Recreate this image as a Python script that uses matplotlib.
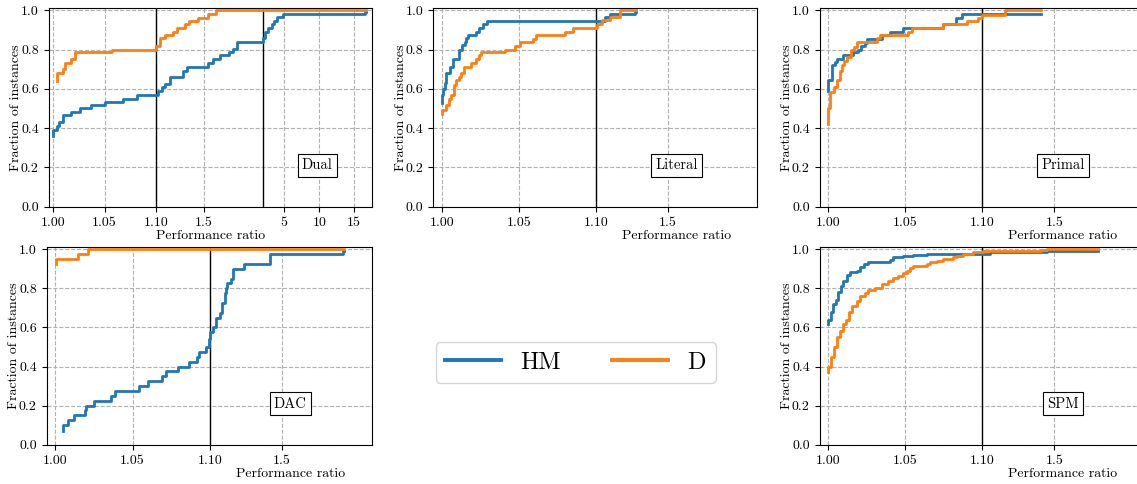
import numpy as np
import matplotlib
matplotlib.use("Agg")
import matplotlib.pyplot as plt
from matplotlib.lines import Line2D

plt.rcParams["font.family"] = "cmr10"
plt.rcParams["mathtext.fontset"] = "cm"
plt.rcParams["axes.formatter.use_mathtext"] = True
plt.rcParams["font.size"] = 10

# ---------------------------------------------------------------------------
# Performance profiles: step breakpoints (performance ratio) and fraction of
# instances solved within that ratio, for each problem class and method.
# ---------------------------------------------------------------------------
series_names = ["HM", "D"]
colors = ["#1f77b4", "#ff7f0e"]

dual_hm_x = [1.000, 1.000, 1.004, 1.006, 1.009, 1.017, 1.026, 1.037, 1.050, 1.068,
             1.082, 1.122, 1.150, 1.178, 1.220, 1.326, 1.365, 1.540, 1.582, 1.638,
             1.716, 1.749, 1.777, 2.00, 2.24, 2.71, 3.19, 3.52, 3.90, 4.76, 16.52, 16.67]
dual_hm_y = [0.36, 0.39, 0.41, 0.43, 0.465, 0.48, 0.50, 0.52, 0.535, 0.55,
             0.57, 0.59, 0.61, 0.625, 0.66, 0.69, 0.71, 0.73, 0.75, 0.77,
             0.79, 0.805, 0.84, 0.86, 0.89, 0.91, 0.93, 0.945, 0.965, 0.98, 0.99, 0.99]
dual_d_x = [1.0039, 1.0039, 1.0098, 1.0114, 1.0169, 1.0212, 1.057, 1.100, 1.136, 1.178,
            1.248, 1.276, 1.345, 1.381, 1.457, 1.540, 1.604, 16.67]
dual_d_y = [0.64, 0.68, 0.70, 0.73, 0.75, 0.785, 0.80, 0.82, 0.86, 0.875,
            0.89, 0.91, 0.93, 0.945, 0.96, 0.98, 1.0, 1.0]

literal_hm_x = [1.000, 1.000, 1.0007, 1.0017, 1.0028, 1.005, 1.0072, 1.0108, 1.0132, 1.0148,
                1.0158, 1.0169, 1.0223, 1.0241, 1.0267, 1.0293, 1.150, 1.178, 1.318, 1.324]
literal_hm_y = [0.53, 0.57, 0.60, 0.63, 0.68, 0.71, 0.75, 0.80, 0.825, 0.84,
                0.86, 0.875, 0.89, 0.91, 0.93, 0.945, 0.965, 0.98, 0.99, 0.99]
literal_d_x = [1.000, 1.000, 1.0028, 1.0043, 1.0061, 1.0076, 1.0093, 1.0108, 1.0121, 1.0141,
               1.0191, 1.0223, 1.0241, 1.0256, 1.0408, 1.0473, 1.0505, 1.0592, 1.0614, 1.0798,
               1.0852, 1.1037, 1.1316, 1.178, 1.234, 1.323]
literal_d_y = [0.47, 0.49, 0.52, 0.55, 0.57, 0.62, 0.645, 0.66, 0.68, 0.71,
               0.73, 0.75, 0.77, 0.785, 0.80, 0.82, 0.84, 0.855, 0.875, 0.89,
               0.91, 0.93, 0.95, 0.965, 1.0, 1.0]

primal_hm_x = [1.000, 1.000, 1.0022, 1.0043, 1.0054, 1.0097, 1.0162, 1.0195, 1.021, 1.0238,
               1.0249, 1.0346, 1.04, 1.0483, 1.0747, 1.0829, 1.0866, 1.425]
primal_hm_y = [0.59, 0.645, 0.72, 0.735, 0.75, 0.77, 0.79, 0.80, 0.82, 0.835,
               0.855, 0.875, 0.89, 0.91, 0.93, 0.96, 0.98, 0.98]
primal_d_x = [1.000, 1.000, 1.0011, 1.0037, 1.0054, 1.0076, 1.0087, 1.0102, 1.0123, 1.0145,
              1.0167, 1.0188, 1.0314, 1.0335, 1.0519, 1.0541, 1.0747, 1.0903, 1.0974, 1.0996,
              1.228, 1.425]
primal_d_y = [0.42, 0.50, 0.585, 0.61, 0.645, 0.69, 0.72, 0.74, 0.76, 0.80,
              0.815, 0.84, 0.86, 0.875, 0.89, 0.91, 0.93, 0.945, 0.96, 0.975,
              1.0, 1.0]

dac_hm_x = [1.0047, 1.0047, 1.0082, 1.0123, 1.0194, 1.020, 1.0252, 1.0361, 1.0387, 1.0544,
            1.0598, 1.0688, 1.0716, 1.0791, 1.0867, 1.0918, 1.0931, 1.0978, 1.0996, 1.1,
            1.1149, 1.1316, 1.1558, 1.1651, 1.1837, 1.1893, 1.1967, 1.2153, 1.2302, 1.2898,
            1.4312, 1.8405, 1.8445]
dac_hm_y = [0.07, 0.10, 0.125, 0.15, 0.175, 0.20, 0.225, 0.25, 0.275, 0.30,
            0.325, 0.35, 0.375, 0.40, 0.425, 0.45, 0.475, 0.50, 0.54, 0.575,
            0.60, 0.65, 0.675, 0.725, 0.775, 0.80, 0.825, 0.85, 0.90, 0.925,
            0.975, 0.99, 0.99]
dac_d_x = [1.0004, 1.0004, 1.0144, 1.0209, 1.8445]
dac_d_y = [0.925, 0.95, 0.975, 1.0, 1.0]

spm_hm_x = [1.000, 1.000, 1.0015, 1.0028, 1.005, 1.0065, 1.008, 1.0093, 1.0119, 1.0141,
            1.0184, 1.0206, 1.0232, 1.026, 1.04, 1.0422, 1.0487, 1.0552, 1.0639, 1.143,
            1.462, 1.744]
spm_hm_y = [0.62, 0.64, 0.68, 0.72, 0.74, 0.78, 0.81, 0.84, 0.87, 0.885,
            0.89, 0.91, 0.925, 0.935, 0.945, 0.96, 0.965, 0.97, 0.975, 0.985,
            0.99, 0.99]
spm_d_x = [1.000, 1.000, 1.0015, 1.0037, 1.0058, 1.0076, 1.0093, 1.0115, 1.0136, 1.0152,
           1.0184, 1.0206, 1.0238, 1.026, 1.0303, 1.0346, 1.039, 1.0422, 1.0455, 1.0487,
           1.0509, 1.053, 1.0552, 1.0639, 1.066, 1.0703, 1.0747, 1.0812, 1.0833, 1.0877,
           1.0942, 1.1056, 1.425, 1.462, 1.744]
spm_d_y = [0.37, 0.40, 0.45, 0.50, 0.55, 0.58, 0.62, 0.64, 0.68, 0.71,
           0.735, 0.76, 0.775, 0.79, 0.80, 0.82, 0.84, 0.855, 0.865, 0.88,
           0.89, 0.905, 0.915, 0.925, 0.935, 0.94, 0.95, 0.96, 0.965, 0.975,
           0.985, 0.99, 0.995, 1.0, 1.0]

# x ticks and their labels
ticks_short = [1.00, 1.05, 1.10, 1.5]
labels_short = ["1.00", "1.05", "1.10", "1.5"]
ticks_long = [1.00, 1.05, 1.10, 1.5, 5, 10, 15]
labels_long = ["1.00", "1.05", "1.10", "1.5", "5", "10", "15"]
y_ticks = [0.0, 0.2, 0.4, 0.6, 0.8, 1.0]


def piecewise_scale(kx, kt):
    """Piecewise-linear axis transform through knots (kx -> kt)."""
    kx = np.asarray(kx, float)
    kt = np.asarray(kt, float)
    s0 = (kt[1] - kt[0]) / (kx[1] - kx[0])
    s1 = (kt[-1] - kt[-2]) / (kx[-1] - kx[-2])

    def fwd(x):
        x = np.asarray(x, float)
        t = np.interp(x, kx, kt)
        t = np.where(x < kx[0], kt[0] + (x - kx[0]) * s0, t)
        t = np.where(x > kx[-1], kt[-1] + (x - kx[-1]) * s1, t)
        return t

    def inv(t):
        t = np.asarray(t, float)
        x = np.interp(t, kt, kx)
        x = np.where(t < kt[0], kx[0] + (t - kt[0]) / s0, x)
        x = np.where(t > kt[-1], kx[-1] + (t - kt[-1]) / s1, x)
        return x

    return fwd, inv


W, H = 1137, 484
fig = plt.figure(figsize=(W / 100, H / 100), dpi=100)


def axes_px(left, top, right, bottom):
    return fig.add_axes([left / W, 1 - bottom / H, (right - left) / W, (bottom - top) / H])


panels = [
    # name, HM curve, D curve, pixel box, wide ratio axis
    ("Dual", (dual_hm_x, dual_hm_y), (dual_d_x, dual_d_y), (48.5, 8.3, 372.3, 206.7), True),
    ("Literal", (literal_hm_x, literal_hm_y), (literal_d_x, literal_d_y), (433, 8.3, 757.3, 206.7), False),
    ("Primal", (primal_hm_x, primal_hm_y), (primal_d_x, primal_d_y), (819.5, 8.3, 1143.8, 206.7), False),
    ("DAC", (dac_hm_x, dac_hm_y), (dac_d_x, dac_d_y), (46.5, 247.3, 371.7, 444.7), False),
    ("SPM", (spm_hm_x, spm_hm_y), (spm_d_x, spm_d_y), (819.5, 247.3, 1143.8, 444.7), False),
]

for name, hm, d, box, long_axis in panels:
    ax = axes_px(*box)
    if long_axis:
        fwd, inv = piecewise_scale([1.0, 1.1, 2.0, 17.7], [0.0, 1.0, 2.05, 2.05 + 15.7 * 0.0684])
        t_lim = (-0.047, 3.115)
        ticks, tlabels = ticks_long, labels_long
        text_x, label_x = 0.83, 0.5
        vlines = [1.1, 2.0]
    else:
        fwd, inv = piecewise_scale([1.0, 1.1, 2.0], [0.0, 1.0, 2.05])
        t_lim = (-0.058, 2.048)
        ticks, tlabels = ticks_short, labels_short
        text_x, label_x = 0.75, 0.75
        vlines = [1.1]
    ax.set_xscale("function", functions=(fwd, inv))
    ax.set_xlim(float(inv(t_lim[0])), float(inv(t_lim[1])))
    ax.set_ylim(0, 1.01)

    ax.grid(True, color="#b0b0b0", linestyle="--", linewidth=0.8)
    ax.set_axisbelow(True)

    for v in vlines:
        ax.axvline(v, color="black", linewidth=1.0, zorder=2)

    for (xs, ys), c in zip([hm, d], colors):
        ax.step(xs, ys, where="post", color=c, linewidth=2.0, zorder=3)

    ax.set_xticks(ticks)
    ax.set_xticklabels(tlabels)
    ax.xaxis.set_minor_locator(matplotlib.ticker.NullLocator())
    ax.set_yticks(y_ticks)
    ax.set_yticklabels([f"{v:.1f}" for v in y_ticks])
    ax.tick_params(labelsize=10)

    ax.set_xlabel("Performance ratio", x=label_x, fontsize=10, labelpad=1)
    ax.set_ylabel("Fraction of instances", fontsize=10, labelpad=-1)

    ax.text(text_x, 0.21, name, transform=ax.get_yaxis_transform(),
            ha="center", va="center", fontsize=10.5,
            bbox=dict(boxstyle="square,pad=0.3", fc="white", ec="black", lw=0.8))

handles = [Line2D([], [], color=c, linewidth=2.8) for c in colors]
fig.legend(handles, series_names, loc="center",
           bbox_to_anchor=(575.7 / W, 1 - 362.5 / H), ncol=2, fontsize=17.5,
           handlelength=2.3, columnspacing=2.1, handletextpad=0.8)

fig.savefig("out.png", dpi=100)
